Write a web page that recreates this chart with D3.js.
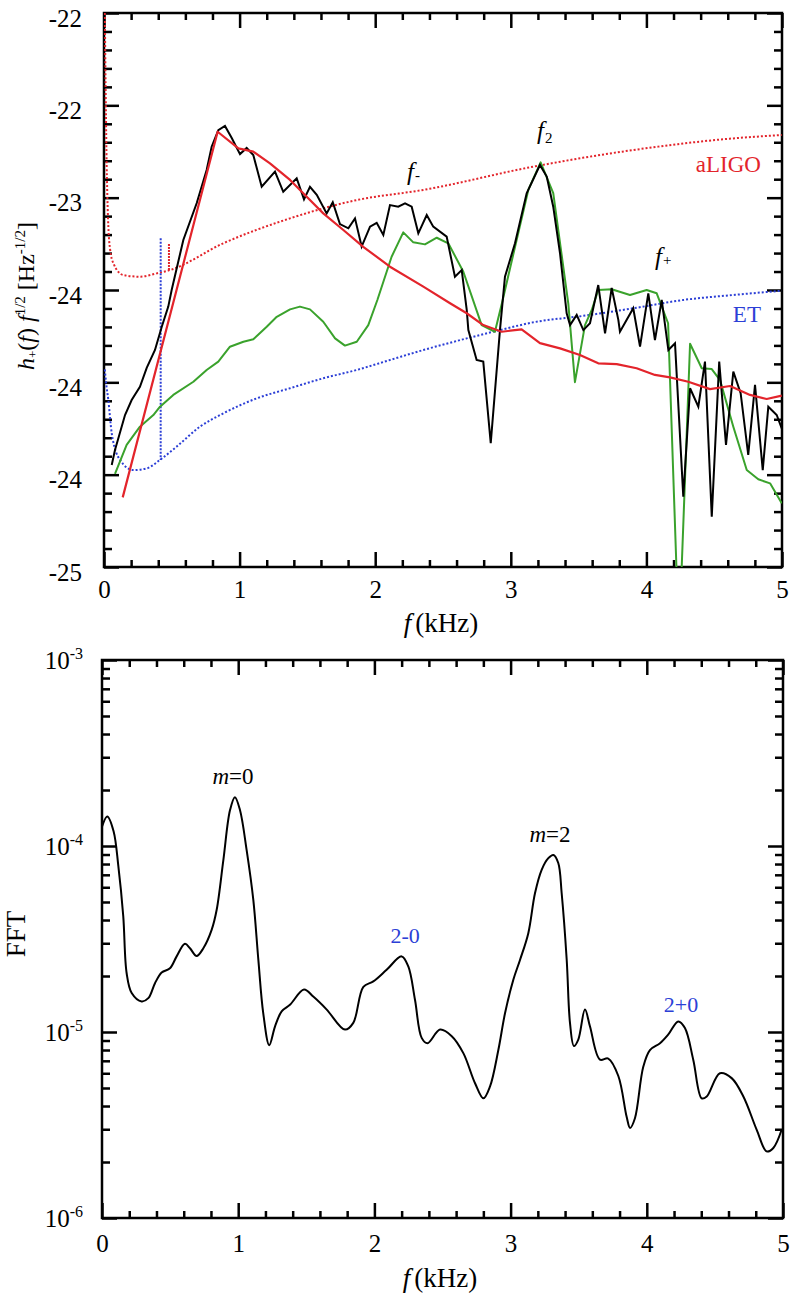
<!DOCTYPE html>
<html>
<head>
<meta charset="utf-8">
<script src="https://cdn.jsdelivr.net/npm/d3@7"></script>
<style>
  html, body { margin: 0; padding: 0; background: #fff; }
  svg { display: block; }
</style>
</head>
<body>
<svg id="chart" width="794" height="1298"></svg>
<script>
// ---------------- DATA ----------------
// Top panel: frequency (kHz) vs log10 strain value
const xTickLabels = ["0", "1", "2", "3", "4", "5"];
const topYTickValues = [-22, -22.5, -23, -23.5, -24, -24.5, -25];
const topYTickLabels = ["-22", "-22", "-23", "-24", "-24", "-24", "-25"];

const blackLine = [
  [0.057,-24.448],[0.081,-24.366],[0.155,-24.177],[0.204,-24.096],[0.265,-24.024],[0.315,-23.922],
  [0.376,-23.825],[0.426,-23.699],[0.474,-23.590],[0.499,-23.500],[0.585,-23.229],[0.684,-23.029],
  [0.757,-22.850],[0.794,-22.724],[0.843,-22.634],[0.892,-22.612],[0.942,-22.677],[1.003,-22.764],
  [1.052,-22.731],[1.101,-22.769],[1.163,-22.941],[1.261,-22.859],[1.322,-22.968],[1.421,-22.895],
  [1.475,-23.009],[1.519,-22.941],[1.569,-22.985],[1.642,-23.085],[1.687,-23.025],[1.740,-23.143],
  [1.802,-23.166],[1.851,-23.112],[1.900,-23.265],[1.962,-23.157],[2.011,-23.136],[2.060,-23.202],
  [2.109,-23.040],[2.170,-23.049],[2.220,-23.031],[2.269,-23.049],[2.318,-23.193],[2.380,-23.094],
  [2.428,-23.157],[2.527,-23.211],[2.588,-23.428],[2.638,-23.392],[2.675,-23.608],[2.687,-23.717],
  [2.748,-23.879],[2.797,-23.888],[2.852,-24.330],[2.920,-23.717],[2.957,-23.428],[3.031,-23.247],
  [3.117,-22.976],[3.215,-22.823],[3.265,-22.886],[3.313,-23.049],[3.363,-23.301],[3.412,-23.626],
  [3.437,-23.690],[3.486,-23.635],[3.535,-23.717],[3.584,-23.680],[3.645,-23.473],[3.695,-23.735],
  [3.744,-23.489],[3.793,-23.662],[3.805,-23.726],[3.903,-23.599],[3.953,-23.807],[4.014,-23.518],
  [4.063,-23.771],[4.113,-23.554],[4.162,-23.825],[4.211,-23.789],[4.272,-24.619],[4.322,-24.032],
  [4.383,-24.132],[4.432,-23.888],[4.482,-24.728],[4.537,-23.888],[4.587,-24.339],[4.641,-23.942],
  [4.695,-24.059],[4.751,-24.393],[4.801,-24.014],[4.858,-24.475],[4.899,-24.132],[4.961,-24.177],
  [4.998,-24.249]
];

const redLine = [
  [0.138,-24.623],[0.838,-22.643],[0.991,-22.733],[1.101,-22.751],[1.224,-22.814],[1.372,-22.904],
  [1.495,-22.995],[1.617,-23.085],[1.765,-23.175],[1.912,-23.266],[2.109,-23.374],[2.355,-23.482],
  [2.552,-23.572],[2.675,-23.626],[2.797,-23.690],[2.933,-23.726],[3.080,-23.713],[3.215,-23.788],
  [3.363,-23.816],[3.510,-23.852],[3.645,-23.897],[3.781,-23.901],[3.928,-23.924],[4.063,-23.960],
  [4.174,-23.973],[4.309,-23.997],[4.469,-24.037],[4.617,-24.020],[4.764,-24.068],[4.887,-24.090],
  [4.998,-24.072]
];

const greenLine = [
  [0.081,-24.496],[0.167,-24.339],[0.265,-24.240],[0.364,-24.177],[0.413,-24.132],[0.511,-24.068],
  [0.659,-23.997],[0.757,-23.933],[0.843,-23.888],[0.929,-23.807],[1.028,-23.780],[1.101,-23.767],
  [1.200,-23.699],[1.274,-23.645],[1.372,-23.605],[1.445,-23.590],[1.519,-23.605],[1.617,-23.672],
  [1.704,-23.762],[1.777,-23.801],[1.864,-23.780],[1.949,-23.690],[2.016,-23.554],[2.121,-23.320],
  [2.207,-23.188],[2.281,-23.242],[2.367,-23.253],[2.454,-23.217],[2.539,-23.247],[2.650,-23.401],
  [2.785,-23.690],[2.883,-23.726],[2.935,-23.570],[3.129,-22.958],[3.220,-22.809],[3.313,-22.976],
  [3.424,-23.574],[3.473,-23.999],[3.547,-23.690],[3.597,-23.608],[3.645,-23.500],[3.744,-23.496],
  [3.879,-23.527],[4.002,-23.500],[4.076,-23.518],[4.160,-23.680],[4.240,-25.400],[4.322,-23.791],
  [4.408,-23.924],[4.482,-23.928],[4.543,-23.988],[4.641,-24.240],[4.740,-24.475],[4.825,-24.525],
  [4.912,-24.547],[4.998,-24.655]
];

const aligoLine = [
  [0.006,-22.000],[0.012,-22.400],[0.018,-22.750],[0.025,-23.000],[0.032,-23.157],[0.045,-23.280],
  [0.069,-23.355],[0.142,-23.419],[0.265,-23.428],[0.389,-23.410],[0.487,-23.392],[0.880,-23.247],
  [1.372,-23.112],[1.864,-23.013],[2.355,-22.958],[3.166,-22.832],[3.903,-22.742],[4.641,-22.679],
  [4.998,-22.661]
];
const aligoSpike = [[0.479,-23.392],[0.479,-23.245]];

const etLine = [
  [0.006,-23.930],[0.015,-24.000],[0.032,-24.096],[0.057,-24.276],[0.118,-24.420],[0.216,-24.475],
  [0.315,-24.466],[0.413,-24.420],[0.536,-24.348],[0.708,-24.240],[0.880,-24.168],[1.126,-24.087],
  [1.372,-24.032],[1.617,-23.978],[1.864,-23.933],[2.109,-23.879],[2.355,-23.825],[2.675,-23.762],
  [2.920,-23.717],[3.166,-23.675],[3.535,-23.640],[3.903,-23.599],[4.272,-23.554],[4.641,-23.527],
  [4.998,-23.504]
];
const etMarker = [[0.418,-23.220],[0.418,-24.420]];

// Bottom panel: FFT amplitude
const fftYTickValues = [1e-3, 1e-4, 1e-5, 1e-6];
const fftYTickExponents = ["-3", "-4", "-5", "-6"];
const fftLine = [
  [0.000,1.27e-4],[0.039,1.44e-4],[0.085,1.20e-4],[0.120,7.8e-5],[0.156,4.2e-5],[0.181,2.07e-5],
  [0.218,1.62e-5],[0.291,1.46e-5],[0.340,1.52e-5],[0.389,1.83e-5],[0.438,2.09e-5],[0.499,2.20e-5],
  [0.548,2.55e-5],[0.609,2.98e-5],[0.646,2.82e-5],[0.695,2.56e-5],[0.744,2.82e-5],[0.805,3.54e-5],
  [0.842,4.54e-5],[0.891,8.4e-5],[0.940,1.56e-4],[0.976,1.83e-4],[1.013,1.56e-4],[1.062,9.5e-5],
  [1.111,5.13e-5],[1.148,2.44e-5],[1.184,1.26e-5],[1.228,8.5e-6],[1.270,1.07e-5],[1.319,1.29e-5],
  [1.380,1.40e-5],[1.483,1.69e-5],[1.551,1.55e-5],[1.650,1.32e-5],[1.784,1.03e-5],[1.845,1.12e-5],
  [1.919,1.75e-5],[1.992,1.87e-5],[2.090,2.16e-5],[2.200,2.55e-5],[2.249,2.25e-5],[2.298,1.49e-5],
  [2.347,9.3e-6],[2.390,8.7e-6],[2.482,1.03e-5],[2.568,9.5e-6],[2.653,7.7e-6],[2.739,5.3e-6],
  [2.800,4.4e-6],[2.849,5.1e-6],[2.910,8.0e-6],[2.959,1.26e-5],[3.020,1.91e-5],[3.069,2.44e-5],
  [3.130,3.40e-5],[3.179,5.57e-5],[3.228,7.45e-5],[3.277,8.6e-5],[3.314,8.95e-5],[3.350,8.1e-5],
  [3.375,5.57e-5],[3.412,2.44e-5],[3.436,1.12e-5],[3.465,8.4e-6],[3.497,9.1e-6],[3.546,1.32e-5],
  [3.583,1.07e-5],[3.656,7.1e-6],[3.717,7.2e-6],[3.791,5.8e-6],[3.852,3.5e-6],[3.877,3.05e-6],
  [3.913,3.44e-6],[3.974,6.5e-6],[4.023,8.0e-6],[4.097,8.7e-6],[4.158,9.7e-6],[4.231,1.14e-5],
  [4.280,1.05e-5],[4.341,7.1e-6],[4.403,4.4e-6],[4.440,4.5e-6],[4.537,6.0e-6],[4.623,5.65e-6],
  [4.709,4.5e-6],[4.807,2.98e-6],[4.880,2.28e-6],[4.929,2.38e-6],[4.990,2.98e-6]
];

// ---------------- DRAWING ----------------
const FONT = "'Liberation Serif', 'Times New Roman', serif";
const RED = "#e3242b", GREEN = "#3aa22c", BLUE = "#2c3fd6";
const svg = d3.select("#chart").attr("font-family", FONT);
svg.append("rect").attr("width", 794).attr("height", 1298).attr("fill", "#fff");

const xTop = d3.scaleLinear().domain([0, 5]).range([104, 782]);
const yTop = d3.scaleLinear().domain([-25, -22]).range([567, 13]);
const xBot = d3.scaleLinear().domain([0, 5]).range([102, 783]);
const yBot = d3.scaleLog().domain([1e-6, 1e-3]).range([1218, 660]);

const defs = svg.append("defs");
defs.append("clipPath").attr("id", "clipTop").append("rect")
  .attr("x", 104).attr("y", 13).attr("width", 678).attr("height", 554);
defs.append("clipPath").attr("id", "clipBot").append("rect")
  .attr("x", 102).attr("y", 660).attr("width", 681).attr("height", 558);

function styleAxis(g) {
  g.attr("font-family", FONT).attr("font-size", 25);
  g.select(".domain").remove();
  g.selectAll(".tick line").attr("stroke", "#000").attr("stroke-width", 2.5);
  g.selectAll(".tick text").attr("font-family", FONT).attr("font-size", 25).attr("fill", "#000");
}

const xMajor = d3.range(0, 6);
const xMinor = d3.range(0, 26).map(i => i * 0.2).filter(v => Math.abs(v - Math.round(v)) > 1e-6);

function framedAxes(x, y, top, bottom, left, right, yMajor, yMinor, yFmt, yPad, yDy, xPad) {
  const gb = svg.append("g").attr("transform", `translate(0,${bottom})`)
    .call(d3.axisBottom(x).tickValues(xMajor).tickSize(-15).tickPadding(xPad)
      .tickFormat((d, i) => xTickLabels[i]));
  styleAxis(gb);
  styleAxis(svg.append("g").attr("transform", `translate(0,${bottom})`)
    .call(d3.axisBottom(x).tickValues(xMinor).tickSize(-7).tickFormat("")));
  styleAxis(svg.append("g").attr("transform", `translate(0,${top})`)
    .call(d3.axisTop(x).tickValues(xMajor).tickSize(-15).tickFormat("")));
  styleAxis(svg.append("g").attr("transform", `translate(0,${top})`)
    .call(d3.axisTop(x).tickValues(xMinor).tickSize(-7).tickFormat("")));
  const gl = svg.append("g").attr("transform", `translate(${left},0)`)
    .call(d3.axisLeft(y).tickValues(yMajor).tickSize(-15).tickPadding(yPad).tickFormat(yFmt));
  styleAxis(gl);
  gl.selectAll(".tick text").attr("dy", yDy);
  styleAxis(svg.append("g").attr("transform", `translate(${left},0)`)
    .call(d3.axisLeft(y).tickValues(yMinor).tickSize(-8).tickFormat("")));
  styleAxis(svg.append("g").attr("transform", `translate(${right},0)`)
    .call(d3.axisRight(y).tickValues(yMajor).tickSize(-15).tickFormat("")));
  styleAxis(svg.append("g").attr("transform", `translate(${right},0)`)
    .call(d3.axisRight(y).tickValues(yMinor).tickSize(-8).tickFormat("")));
  svg.append("rect").attr("x", left).attr("y", top).attr("width", right - left).attr("height", bottom - top)
    .attr("fill", "none").attr("stroke", "#000").attr("stroke-width", 2.5);
  return gl;
}

// ---- Top panel axes ----
const topMinorY = d3.range(0, 31).map(i => -22 - i * 0.1)
  .filter(v => Math.abs(v * 2 - Math.round(v * 2)) > 1e-6);
framedAxes(xTop, yTop, 13, 567, 104, 782, topYTickValues, topMinorY,
  (d, i) => topYTickLabels[i], 22, "0.52em", 13);

// ---- Top panel lines ----
const lineTop = d3.line().x(d => xTop(d[0])).y(d => yTop(d[1]));
const smoothTop = d3.line().x(d => xTop(d[0])).y(d => yTop(d[1])).curve(d3.curveMonotoneX);
const gTop = svg.append("g").attr("clip-path", "url(#clipTop)");

gTop.append("path").datum(aligoLine).attr("d", smoothTop).attr("fill", "none")
  .attr("stroke", RED).attr("stroke-width", 2).attr("stroke-dasharray", "2,2");
gTop.append("path").datum(aligoSpike).attr("d", lineTop).attr("fill", "none")
  .attr("stroke", RED).attr("stroke-width", 2).attr("stroke-dasharray", "2,1");
gTop.append("path").datum(etLine).attr("d", smoothTop).attr("fill", "none")
  .attr("stroke", BLUE).attr("stroke-width", 2).attr("stroke-dasharray", "2,2");
gTop.append("path").datum(etMarker).attr("d", lineTop).attr("fill", "none")
  .attr("stroke", BLUE).attr("stroke-width", 2).attr("stroke-dasharray", "2,1.5");
gTop.append("path").datum(greenLine).attr("d", lineTop).attr("fill", "none")
  .attr("stroke", GREEN).attr("stroke-width", 2).attr("stroke-linejoin", "round");
gTop.append("path").datum(blackLine).attr("d", lineTop).attr("fill", "none")
  .attr("stroke", "#000").attr("stroke-width", 2).attr("stroke-linejoin", "miter");
gTop.append("path").datum(redLine).attr("d", lineTop).attr("fill", "none")
  .attr("stroke", RED).attr("stroke-width", 2.2).attr("stroke-linejoin", "round");

// ---- Top annotations ----
function fLabel(fx, fy, sub, subDy) {
  const t = svg.append("text").attr("x", xTop(fx)).attr("y", yTop(fy))
    .attr("font-family", FONT).attr("font-size", 25).attr("fill", "#000");
  t.append("tspan").attr("font-style", "italic").text("f");
  t.append("tspan").attr("font-size", 15).attr("dx", 1).attr("dy", subDy).text(sub);
}
fLabel(2.234, -22.904, "-", 0);
fLabel(3.193, -22.682, "2", 4);
fLabel(4.063, -23.365, "+", 0);

svg.append("text").attr("x", xTop(4.845)).attr("y", yTop(-22.861)).attr("text-anchor", "end")
  .attr("font-family", FONT).attr("font-size", 23).attr("fill", RED).text("aLIGO");
svg.append("text").attr("x", xTop(4.845)).attr("y", yTop(-23.673)).attr("text-anchor", "end")
  .attr("font-family", FONT).attr("font-size", 23).attr("fill", BLUE).text("ET");

// Top axis titles
const xt1 = svg.append("text").attr("x", 441).attr("y", 632).attr("text-anchor", "middle")
  .attr("font-family", FONT).attr("font-size", 27).attr("fill", "#000");
xt1.append("tspan").attr("font-style", "italic").text("f");
xt1.append("tspan").attr("dx", 4).text("(kHz)");

const yt1 = svg.append("text").attr("transform", "translate(34,296) rotate(-90)")
  .attr("text-anchor", "middle").attr("font-family", FONT).attr("font-size", 24).attr("fill", "#000");
yt1.append("tspan").attr("font-style", "italic").text("h");
yt1.append("tspan").attr("font-size", 13).attr("dy", 3).text("+");
yt1.append("tspan").attr("dy", -3).text("(");
yt1.append("tspan").attr("font-style", "italic").text("f");
yt1.append("tspan").text(") ");
yt1.append("tspan").attr("font-style", "italic").text("f");
yt1.append("tspan").attr("font-size", 15).attr("dy", -9).text("1/2");
yt1.append("tspan").attr("dy", 9).text(" [Hz");
yt1.append("tspan").attr("font-size", 15).attr("dy", -9).text("-1/2");
yt1.append("tspan").attr("dy", 9).text("]");

// ---- Bottom panel ----
const botMinorY = [];
[-6, -5, -4].forEach(e => { for (let k = 2; k <= 9; k++) botMinorY.push(k * Math.pow(10, e)); });
const glb = framedAxes(xBot, yBot, 660, 1218, 102, 783, fftYTickValues, botMinorY,
  (d, i) => fftYTickExponents[i], 19, "0.32em", 16);
glb.selectAll(".tick text").each(function() {
  const t = d3.select(this);
  const exp = t.text();
  t.text(null);
  t.append("tspan").text("10");
  t.append("tspan").attr("font-size", 16).attr("dy", "-0.6em").text(exp);
});

const lineBot = d3.line().x(d => xBot(d[0])).y(d => yBot(d[1])).curve(d3.curveCatmullRom.alpha(0.5));
svg.append("g").attr("clip-path", "url(#clipBot)").append("path").datum(fftLine)
  .attr("d", lineBot).attr("fill", "none").attr("stroke", "#000").attr("stroke-width", 2)
  .attr("stroke-linejoin", "round");

function mLabel(fx, v, num) {
  const t = svg.append("text").attr("x", xBot(fx)).attr("y", yBot(v)).attr("text-anchor", "middle")
    .attr("font-family", FONT).attr("font-size", 23).attr("fill", "#000");
  t.append("tspan").attr("font-style", "italic").text("m");
  t.append("tspan").text("=" + num);
}
mLabel(0.962, 2.16e-4, "0");
mLabel(3.289, 1.05e-4, "2");
svg.append("text").attr("x", xBot(2.225)).attr("y", yBot(3.01e-5)).attr("text-anchor", "middle")
  .attr("font-family", FONT).attr("font-size", 22).attr("fill", BLUE).text("2-0");
svg.append("text").attr("x", xBot(4.251)).attr("y", yBot(1.285e-5)).attr("text-anchor", "middle")
  .attr("font-family", FONT).attr("font-size", 22).attr("fill", BLUE).text("2+0");

const xt2 = svg.append("text").attr("x", 440).attr("y", 1287).attr("text-anchor", "middle")
  .attr("font-family", FONT).attr("font-size", 27).attr("fill", "#000");
xt2.append("tspan").attr("font-style", "italic").text("f");
xt2.append("tspan").attr("dx", 4).text("(kHz)");

svg.append("text").attr("transform", "translate(25,934) rotate(-90)").attr("text-anchor", "middle")
  .attr("font-family", FONT).attr("font-size", 27).attr("fill", "#000").text("FFT");
</script>
</body>
</html>
